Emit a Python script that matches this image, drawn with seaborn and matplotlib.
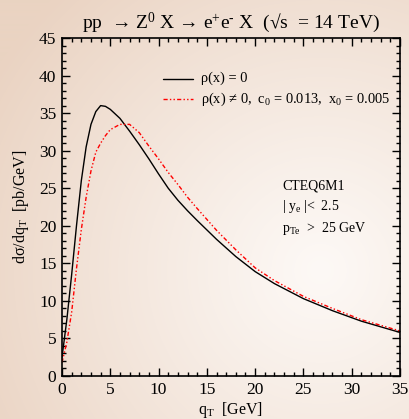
import numpy as np
import pandas as pd
import matplotlib
matplotlib.use("Agg")
import matplotlib.pyplot as plt
from matplotlib.colors import to_rgb
from matplotlib.ticker import MultipleLocator
import seaborn as sns

# q_T grid [GeV] and differential cross sections [pb/GeV]
q_t = [0, 0.5, 1, 1.5, 2, 2.5, 3, 3.5, 4, 4.5, 5, 6, 7, 8, 9, 10, 11,
       12, 13, 14, 16, 18, 20, 22, 25, 28, 31, 35]
sigma_rho0 = [2.5, 7.5, 13.5, 20.0, 26.0, 30.5, 33.5, 35.2, 36.0, 35.9, 35.5,
              34.3, 32.6, 30.8, 28.9, 26.9, 25.0, 23.4, 22.0, 20.7, 18.2,
              15.9, 13.9, 12.3, 10.3, 8.7, 7.3, 5.8]
sigma_rho = [1.8, 4.5, 8.5, 14.3, 19.5, 23.8, 27.3, 29.8, 31.0, 32.0, 32.8,
             33.5, 33.5, 32.4, 30.6, 28.9, 27.1, 25.5, 23.8, 22.3, 19.4,
             16.8, 14.4, 12.7, 10.6, 9.0, 7.5, 6.0]

label_rho0 = "ρ(x) = 0"
label_rho = "ρ(x) ≠ 0,  c$_0$ = 0.013,  x$_0$ = 0.005"

df = pd.concat([
    pd.DataFrame({"qT": q_t, "sigma": sigma_rho0, "model": label_rho0}),
    pd.DataFrame({"qT": q_t, "sigma": sigma_rho, "model": label_rho}),
])

sns.set_style("ticks")
plt.rcParams["font.family"] = ["Liberation Serif", "DejaVu Serif"]
plt.rcParams["mathtext.fontset"] = "custom"
plt.rcParams["mathtext.rm"] = "Liberation Serif"
plt.rcParams["mathtext.it"] = "Liberation Serif"
plt.rcParams["mathtext.bf"] = "Liberation Serif:bold"
plt.rcParams["text.color"] = "black"
plt.rcParams["axes.labelcolor"] = "black"
plt.rcParams["xtick.color"] = "black"
plt.rcParams["ytick.color"] = "black"

W, H = 409, 419
fig = plt.figure(figsize=(W / 100, H / 100), dpi=100)

# soft radial peach background
bg = fig.add_axes([0, 0, 1, 1], zorder=-10)
yy, xx = np.mgrid[0:H, 0:W]
r = np.hypot(xx - 320, yy - 270) / 380.0
r = np.clip(r, 0, 1) ** 1.1
c_in = np.array(to_rgb("#fdf9f6"))
c_out = np.array(to_rgb("#ead3c2"))
img = c_in[None, None, :] * (1 - r[..., None]) + c_out[None, None, :] * r[..., None]
bg.imshow(img, aspect="auto", extent=[0, 1, 0, 1], origin="upper")
bg.axis("off")

ax = fig.add_axes([62 / W, 1 - 376 / H, 338 / W, 338 / H])
ax.set_facecolor("none")

red_dash = (3, 1.6, 1, 1.6, 1, 1.6)
sns.lineplot(data=df, x="qT", y="sigma", hue="model", style="model",
             palette={label_rho0: "black", label_rho: "red"},
             dashes={label_rho0: "", label_rho: red_dash},
             linewidth=1.0, ax=ax, legend=False)

ax.set_xlim(0, 35)
ax.set_ylim(0, 45)
ax.xaxis.set_major_locator(MultipleLocator(5))
ax.xaxis.set_minor_locator(MultipleLocator(1))
ax.yaxis.set_major_locator(MultipleLocator(5))
ax.yaxis.set_minor_locator(MultipleLocator(1))
ax.tick_params(which="both", direction="in", top=True, right=True,
               width=1.0, colors="black", labelsize=12.5, pad=4)
ax.tick_params(which="major", length=6)
ax.tick_params(which="minor", length=3)
for s in ax.spines.values():
    s.set_linewidth(1.2)
    s.set_color("black")

ax.set_xlabel("q$_\\mathrm{T}$  [GeV]", fontsize=11.5, labelpad=2)
ax.set_ylabel("dσ/dq$_\\mathrm{T}$  [pb/GeV]", fontsize=11.5, labelpad=6)
ax.set_title("pp  → Z$^0$ X → e$^{\\text{+}}$e$^{\\text{-}}$ X  (√s  = 14 TeV)",
             fontsize=14, pad=7)

# legend drawn as line samples with text
ax.plot([10.5, 13.6], [39.6, 39.6], color="black", lw=1.0)
ax.plot([10.5, 13.6], [36.9, 36.9], color="red", lw=1.0, dashes=red_dash)
ax.text(14.4, 39.6, label_rho0, fontsize=10.4, va="center")
ax.text(14.4, 36.9, label_rho, fontsize=10.4, va="center")

ax.text(22.8, 25.3, "CTEQ6M1", fontsize=10, va="center")
ax.text(22.8, 22.6, "| y$_\\mathrm{e}$ |<  2.5", fontsize=10, va="center")
ax.text(22.8, 19.7, "p$_\\mathrm{Te}$  >  25 GeV", fontsize=10, va="center")

fig.savefig("out.png", dpi=100)
